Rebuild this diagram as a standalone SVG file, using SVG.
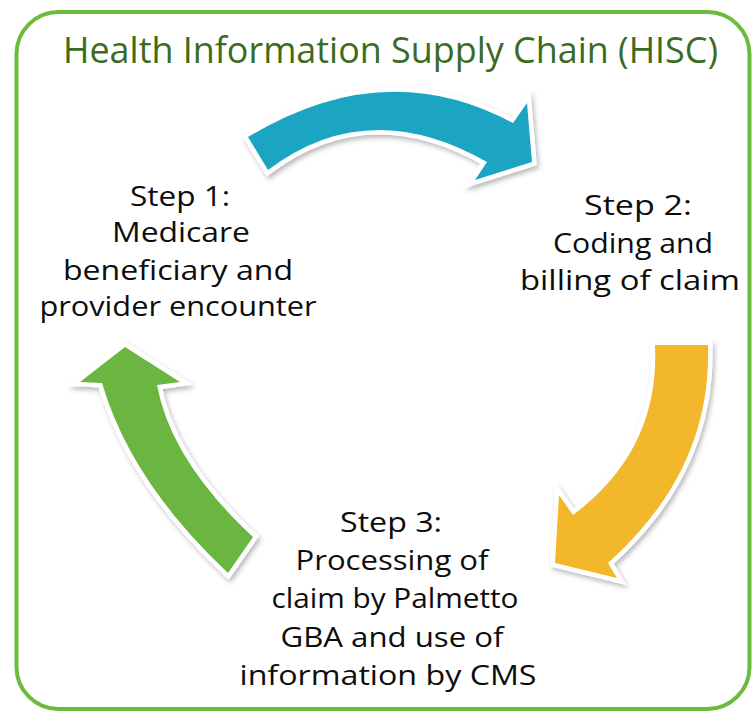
<svg xmlns="http://www.w3.org/2000/svg" width="752" height="714" viewBox="0 0 752 714">
  <style>
    .title { font-family: "Open Sans", "Noto Sans", sans-serif; font-size: 36px; fill: #3b6b22; }
    .step { font-family: "Open Sans", "Noto Sans", sans-serif; font-size: 28px; fill: #0d0d0d; text-anchor: middle; }
    .arrow { stroke: #ffffff; stroke-width: 9; stroke-linejoin: miter; paint-order: stroke; filter: url(#shadow); }
  </style>
  <defs>
    <filter id="shadow" x="-20%" y="-20%" width="140%" height="140%">
      <feDropShadow dx="2" dy="3" stdDeviation="2.5" flood-color="#000000" flood-opacity="0.28"/>
    </filter>
  </defs>

  <rect x="0" y="0" width="752" height="714" fill="#ffffff"/>

  <!-- frame -->
  <rect id="frame" x="16.5" y="12" width="733" height="697" rx="42" ry="42" fill="none" stroke="#6bbb3c" stroke-width="4"/>

  <text id="title" class="title" x="63" y="63" textLength="655" lengthAdjust="spacingAndGlyphs">Health Information Supply Chain (HISC)</text>

  <!-- cycle arrows -->
  <g id="connectors">
    <path id="arrow-1-2" class="arrow" fill="#1fa5c2"
          d="M 248 137 Q 385 54 513 123 L 527 103 L 532 162 L 475 180 L 487 162 Q 368 94 268 170 Z"/>
    <path id="arrow-2-3" class="arrow" fill="#f2b72b"
          d="M 655 345 L 708 345 Q 712 470 608 563 L 617 578 L 555 563 L 559 495 L 573 515 Q 660 450 655 345 Z"/>
    <path id="arrow-3-1" class="arrow" fill="#6ab63f"
          d="M 228 573 L 253 537 Q 171 461 157 385 L 180 382 L 125 347 L 80 382 L 102 383 Q 131 482 228 573 Z"/>
  </g>

  <g id="step1">
    <text class="step" x="180" y="206" textLength="100" lengthAdjust="spacingAndGlyphs">Step 1:</text>
    <text class="step" x="181" y="242" textLength="138" lengthAdjust="spacingAndGlyphs">Medicare</text>
    <text class="step" x="178" y="280" textLength="230" lengthAdjust="spacingAndGlyphs">beneficiary and</text>
    <text class="step" x="178" y="316" textLength="277" lengthAdjust="spacingAndGlyphs">provider encounter</text>
  </g>

  <g id="step2">
    <text class="step" x="638" y="215" textLength="108" lengthAdjust="spacingAndGlyphs">Step 2:</text>
    <text class="step" x="633" y="253" textLength="160" lengthAdjust="spacingAndGlyphs">Coding and</text>
    <text class="step" x="630" y="290" textLength="220" lengthAdjust="spacingAndGlyphs">billing of claim</text>
  </g>

  <g id="step3">
    <text class="step" x="391" y="532" textLength="102" lengthAdjust="spacingAndGlyphs">Step 3:</text>
    <text class="step" x="392" y="570" textLength="193" lengthAdjust="spacingAndGlyphs">Processing of</text>
    <text class="step" x="395" y="608" textLength="247" lengthAdjust="spacingAndGlyphs">claim by Palmetto</text>
    <text class="step" x="392" y="647" textLength="223" lengthAdjust="spacingAndGlyphs">GBA and use of</text>
    <text class="step" x="388" y="685" textLength="297" lengthAdjust="spacingAndGlyphs">information by CMS</text>
  </g>
</svg>
